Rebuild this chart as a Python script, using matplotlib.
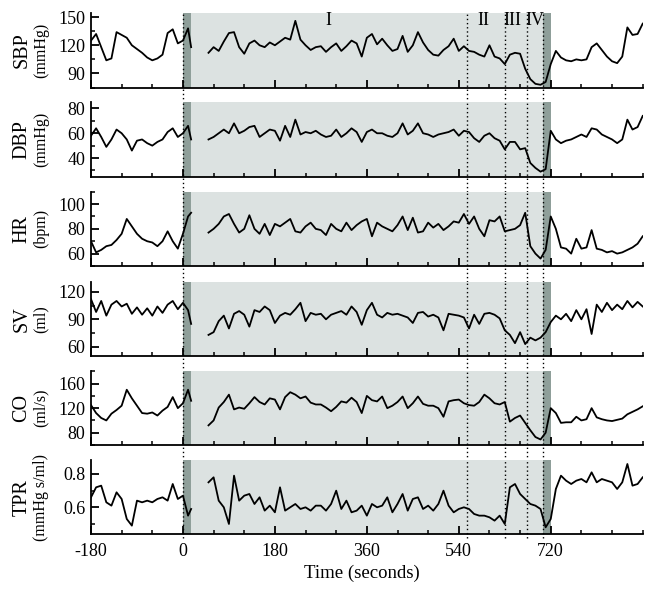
import matplotlib
matplotlib.use("Agg")
import matplotlib.pyplot as plt
from matplotlib.ticker import FixedLocator, MultipleLocator

plt.rcParams["font.family"] = ["Liberation Serif", "DejaVu Serif"]
plt.rcParams["axes.unicode_minus"] = False

# ---------------- data ----------------
time_a = [-180, -170, -160, -150, -140, -130, -120, -110, -100, -90, -80, -70,
          -60, -50, -40, -30, -20, -10, 0, 10, 16]
time_b = list(range(50, 901, 10))

sbp_a = [125, 132, 118, 104, 106, 134, 131, 128, 120, 116, 112, 107, 104, 106,
         110, 133, 137, 122, 125, 138, 118]
sbp_b = [112, 118, 114, 124, 133, 134, 118, 111, 122, 125, 120, 118, 123, 120,
         124, 128, 126, 146, 126, 120, 115, 118, 119, 113, 118, 122, 114, 119,
         125, 122, 108, 128, 132, 121, 127, 120, 114, 116, 130, 113, 120, 134,
         123, 115, 110, 109, 115, 119, 127, 114, 119, 114, 113, 110, 108, 120,
         108, 106, 100, 110, 112, 111, 95, 84, 79, 78, 81, 100, 114, 107, 104,
         103, 105, 104, 105, 118, 122, 115, 108, 103, 101, 108, 139, 131, 132, 143]

dbp_a = [58, 64, 57, 49, 55, 63, 60, 55, 46, 54, 55, 52, 50, 53, 55, 61, 64,
         57, 60, 66, 55]
dbp_b = [55, 57, 60, 63, 60, 68, 60, 62, 65, 66, 57, 60, 63, 62, 54, 66, 57,
         71, 59, 61, 60, 62, 59, 57, 58, 63, 57, 60, 64, 61, 53, 61, 63, 60, 60,
         58, 57, 60, 68, 59, 62, 68, 60, 59, 57, 59, 60, 61, 63, 58, 62, 61, 56,
         53, 58, 60, 56, 54, 47, 53, 53, 47, 48, 36, 32, 29, 31, 62, 55, 52, 54,
         55, 57, 59, 57, 64, 63, 59, 57, 55, 52, 55, 71, 63, 65, 74]

hr_a = [70, 61, 63, 66, 67, 71, 76, 88, 82, 76, 72, 70, 69, 66, 70, 78, 70,
        64, 76, 90, 93]
hr_b = [77, 80, 84, 90, 92, 84, 77, 80, 91, 80, 76, 84, 75, 84, 82, 85, 88,
        78, 77, 82, 85, 80, 79, 75, 84, 80, 78, 85, 79, 83, 86, 88, 74, 85, 82,
        80, 78, 83, 90, 79, 89, 77, 78, 85, 81, 84, 79, 82, 86, 85, 92, 84, 90,
        80, 74, 87, 86, 90, 78, 79, 80, 83, 93, 66, 60, 56, 63, 90, 80, 65, 64,
        60, 72, 64, 65, 79, 64, 63, 61, 62, 60, 61, 63, 65, 68, 74]

sv_a = [112, 98, 110, 94, 106, 110, 104, 107, 96, 103, 95, 102, 94, 104, 97,
        106, 110, 101, 108, 100, 85]
sv_b = [73, 76, 88, 94, 80, 96, 99, 95, 82, 100, 98, 104, 100, 86, 94, 97, 95,
        101, 108, 88, 97, 95, 96, 90, 95, 97, 99, 95, 104, 98, 84, 100, 108, 95,
        92, 97, 95, 96, 94, 92, 86, 97, 98, 93, 95, 92, 78, 96, 95, 94, 92, 80,
        95, 85, 96, 97, 95, 91, 78, 73, 64, 76, 63, 70, 67, 70, 76, 87, 94, 90,
        96, 88, 100, 90, 101, 74, 106, 98, 108, 100, 106, 101, 110, 103, 109, 104]

co_a = [125, 112, 104, 100, 111, 117, 124, 150, 136, 124, 112, 111, 113, 108,
        116, 122, 138, 120, 128, 150, 132]
co_b = [92, 100, 121, 130, 142, 118, 121, 119, 128, 138, 130, 126, 136, 134,
        118, 138, 146, 142, 136, 139, 129, 126, 126, 121, 115, 122, 131, 129,
        137, 130, 112, 140, 133, 131, 139, 120, 124, 130, 139, 120, 128, 139,
        127, 124, 124, 120, 106, 131, 133, 134, 128, 125, 124, 130, 142, 136,
        128, 126, 130, 98, 104, 108, 96, 84, 73, 69, 80, 120, 112, 96, 97, 97,
        106, 100, 102, 120, 105, 102, 100, 99, 101, 103, 110, 114, 118, 123]

tpr_a = [0.66, 0.72, 0.73, 0.63, 0.61, 0.69, 0.65, 0.53, 0.49, 0.64, 0.63, 0.64,
         0.63, 0.65, 0.66, 0.64, 0.74, 0.65, 0.67, 0.55, 0.59]
tpr_b = [0.75, 0.78, 0.64, 0.60, 0.50, 0.79, 0.64, 0.67, 0.68, 0.62, 0.66, 0.58,
         0.61, 0.57, 0.72, 0.58, 0.60, 0.62, 0.59, 0.60, 0.58, 0.61, 0.61, 0.58,
         0.62, 0.70, 0.59, 0.64, 0.57, 0.58, 0.61, 0.55, 0.62, 0.60, 0.61, 0.66,
         0.57, 0.62, 0.68, 0.58, 0.65, 0.66, 0.59, 0.61, 0.58, 0.62, 0.70, 0.61,
         0.57, 0.59, 0.60, 0.59, 0.56, 0.55, 0.55, 0.54, 0.52, 0.55, 0.50, 0.72,
         0.74, 0.68, 0.65, 0.62, 0.61, 0.59, 0.48, 0.53, 0.71, 0.79, 0.76, 0.74,
         0.76, 0.77, 0.75, 0.81, 0.75, 0.77, 0.76, 0.75, 0.71, 0.75, 0.86, 0.73,
         0.74, 0.78]

names = ["SBP", "DBP", "HR", "SV", "CO", "TPR"]
units = ["(mmHg)", "(mmHg)", "(bpm)", "(ml)", "(ml/s)", "(mmHg s/ml)"]
series_a = [sbp_a, dbp_a, hr_a, sv_a, co_a, tpr_a]
series_b = [sbp_b, dbp_b, hr_b, sv_b, co_b, tpr_b]
ylims = [(75, 154), (25, 85), (50, 110), (50, 131), (60, 181), (0.438, 0.884)]
yticks = [[90, 120, 150], [40, 60, 80], [60, 80, 100], [60, 90, 120],
          [80, 120, 160], [0.6, 0.8]]
yminor = [15, 10, 10, 15, 20, 0.1]
ytick_labels = [None, None, None, None, None, ["0.6", "0.8"]]

xticks = [-180, 0, 180, 360, 540, 720]
phase_lines = [0, 556, 631, 673, 705]
phase_names = ["I", "II", "III", "IV"]
phase_label_x = [285, 588, 645, 688]

for a, b in zip(series_a, series_b):
    assert len(a) == len(time_a) and len(b) == len(time_b)

# ---------------- layout ----------------
W, H = 655, 591
fig = plt.figure(figsize=(W / 100, H / 100), dpi=100)
left_px, right_px = 91, 642.7
tops = [13.3, 102.3, 191.7, 281.7, 370.7, 460.0]
hpx = 74.3
light = "#dce2e1"
dark = "#8f9f9a"

axes = []
for i in range(6):
    top = tops[i]
    ax = fig.add_axes([left_px / W, 1 - (top + hpx) / H,
                       (right_px - left_px) / W, hpx / H])
    axes.append(ax)
    ax.set_xlim(-180, 900)
    ax.set_ylim(*ylims[i])
    ax.axvspan(0, 16, color=dark, lw=0, zorder=0)
    ax.axvspan(16, 705, color=light, lw=0, zorder=0)
    ax.axvspan(705, 720, color=dark, lw=0, zorder=0)
    ax.plot(time_a, series_a[i], color="black", lw=1.3, zorder=2)
    ax.plot(time_b, series_b[i], color="black", lw=1.3, zorder=2)
    ymin = -0.21 if i < 5 else -0.05
    for t in phase_lines:
        ax.axvline(t, ymin=ymin, ymax=1, color="black", lw=1.0,
                   ls=(0, (1, 2)), clip_on=False, zorder=3)
    for s in ["top", "right"]:
        ax.spines[s].set_visible(False)
    for s in ["left", "bottom"]:
        ax.spines[s].set_linewidth(1.3)
    ax.xaxis.set_major_locator(FixedLocator(xticks))
    ax.xaxis.set_minor_locator(MultipleLocator(60))
    ax.yaxis.set_major_locator(FixedLocator(yticks[i]))
    ax.yaxis.set_minor_locator(MultipleLocator(yminor[i]))
    if ytick_labels[i] is not None:
        ax.set_yticklabels(ytick_labels[i])
    ax.tick_params(which="major", direction="in", length=6, width=1.3,
                   labelsize=13, pad=4)
    ax.tick_params(which="minor", direction="in", length=3, width=1.1)
    if i < 5:
        ax.tick_params(axis="x", labelbottom=False)
    else:
        ax.tick_params(axis="x", pad=6)
    yc = 1 - (top + hpx / 2) / H
    fig.text(22 / W, yc, names[i], rotation=90, ha="center", va="center",
             fontsize=14.5)
    fig.text(41 / W, yc, units[i], rotation=90, ha="center", va="center",
             fontsize=11.5)

for name, x in zip(phase_names, phase_label_x):
    axes[0].text(x, 0.9, name, transform=axes[0].get_xaxis_transform(),
                 ha="center", va="center", fontsize=13)

fig.text(362 / W, 1 - 573 / H, "Time (seconds)", ha="center", va="center",
         fontsize=13.5)

fig.savefig("out.png", dpi=100)
